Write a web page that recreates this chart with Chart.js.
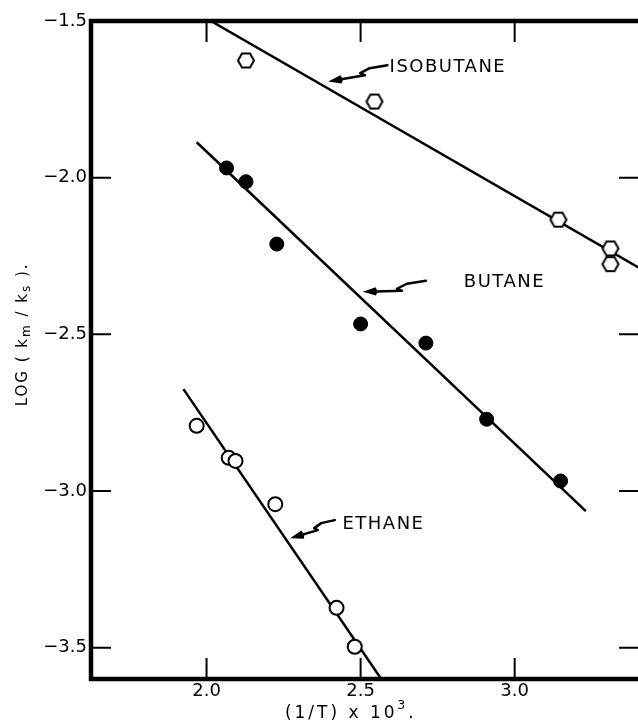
<!DOCTYPE html>
<html>
<head>
<meta charset="utf-8">
<script src="https://cdn.jsdelivr.net/npm/chart.js@4/dist/chart.umd.min.js"></script>
<style>
  html, body { margin: 0; padding: 0; background: #fff; overflow: hidden; }
  #wrap { position: relative; width: 650px; height: 725px; }
</style>
</head>
<body>
<div id="wrap"><canvas id="c" width="650" height="725"></canvas></div>
<script>
// Reciprocal temperature (1/T x 10^3) against log(km/ks) for each gas
const isobutaneX = [2.128, 2.545, 3.142, 3.311, 3.311];
const isobutaneY = [-1.626, -1.757, -2.134, -2.226, -2.276];
const butaneX = [2.065, 2.128, 2.228, 2.500, 2.712, 2.909, 3.149];
const butaneY = [-1.969, -2.013, -2.212, -2.467, -2.528, -2.771, -2.968];
const ethaneX = [1.968, 2.072, 2.094, 2.223, 2.422, 2.481];
const ethaneY = [-2.792, -2.894, -2.904, -3.042, -3.373, -3.497];

// Fitted straight lines, each given by its two end points
const isobutaneFitX = [2.014, 3.41];
const isobutaneFitY = [-1.5, -2.291];
const butaneFitX = [1.968, 3.231];
const butaneFitY = [-1.887, -3.064];
const ethaneFitX = [1.925, 2.567];
const ethaneFitY = [-2.675, -3.600];

// Axis ranges and tick values
const xRange = [1.625, 3.41];
const yRange = [-3.6, -1.5];
const xTicks = [2.0, 2.5, 3.0];
const yTicks = [-1.5, -2.0, -2.5, -3.0, -3.5];

// Curve names, where their text starts, and the squiggly arrows (tail, tip)
const curveNames = ['ISOBUTANE', 'BUTANE', 'ETHANE'];
const labelAt = [[2.594, -1.642], [2.835, -2.329], [2.441, -3.101]];
const arrowTail = [[2.587, -1.641], [2.712, -2.329], [2.416, -3.093]];
const arrowTip = [[2.395, -1.693], [2.507, -2.364], [2.271, -3.151]];

// Axis titles and where they are centred
const xTitleParts = ['(1/T) x 10', '3', '.'];
const xTitleCentre = 2.468;
const yTitleParts = ['LOG ( k', 'm', ' / k', 's', ' ).'];
const yTitleCentre = -2.5;

const FONT = '"DejaVu Sans", "Liberation Sans", sans-serif';
const toPts = (xs, ys) => xs.map((x, i) => ({ x, y: ys[i] }));

// Open hexagon marker, flat top and bottom
function hexagonMarker(r, lw) {
  const s = Math.ceil(2 * r + lw + 2);
  const cv = document.createElement('canvas');
  cv.width = s; cv.height = s;
  const g = cv.getContext('2d');
  g.beginPath();
  for (let k = 0; k < 6; k++) {
    const a = k * Math.PI / 3;
    const px = s / 2 + r * Math.cos(a), py = s / 2 + r * Math.sin(a);
    if (k) g.lineTo(px, py); else g.moveTo(px, py);
  }
  g.closePath();
  g.fillStyle = '#fff'; g.fill();
  g.lineWidth = lw; g.strokeStyle = '#000'; g.stroke();
  return cv;
}

function fitLine(xs, ys) {
  return {
    type: 'line', data: toPts(xs, ys), order: 2,
    borderColor: '#000', borderWidth: 2.5, pointRadius: 0,
    fill: false, tension: 0
  };
}

// Draws a lettered string piece by piece, with sub/superscripts
function drawPieces(ctx, pieces, x, baseY, align) {
  let total = 0;
  pieces.forEach(p => { ctx.font = p.font; ctx.letterSpacing = p.ls; total += ctx.measureText(p.text).width; });
  let cx = align === 'center' ? x - total / 2 : x;
  pieces.forEach(p => {
    ctx.font = p.font; ctx.letterSpacing = p.ls;
    ctx.fillText(p.text, cx, baseY + p.dy);
    cx += ctx.measureText(p.text).width;
  });
}

function drawArrow(ctx, T, P) {
  const dx = P.x - T.x;
  const pts = [
    T,
    { x: T.x + 0.30 * dx, y: T.y + 3 },
    { x: T.x + 0.46 * dx, y: T.y + 8 },
    { x: T.x + 0.38 * dx, y: T.y + 10 }
  ];
  const last = pts[pts.length - 1];
  const ang = Math.atan2(P.y - last.y, P.x - last.x);
  const len = 13, w = 4.2;
  const bx = P.x - len * Math.cos(ang), by = P.y - len * Math.sin(ang);
  ctx.lineWidth = 2.5;
  ctx.lineJoin = 'round';
  ctx.lineCap = 'round';
  ctx.beginPath();
  ctx.moveTo(pts[0].x, pts[0].y);
  for (let i = 1; i < pts.length; i++) ctx.lineTo(pts[i].x, pts[i].y);
  ctx.lineTo(bx, by);
  ctx.stroke();
  ctx.beginPath();
  ctx.moveTo(P.x, P.y);
  ctx.lineTo(bx - w * Math.sin(ang), by + w * Math.cos(ang));
  ctx.lineTo(bx + 2, by);
  ctx.lineTo(bx + w * Math.sin(ang), by - w * Math.cos(ang));
  ctx.closePath();
  ctx.fill();
}

const decorations = {
  id: 'decorations',
  afterDraw(chart) {
    const { ctx, chartArea: a, scales: { x, y } } = chart;
    ctx.save();
    ctx.strokeStyle = '#000';
    ctx.fillStyle = '#000';

    // frame
    ctx.lineWidth = 4.5;
    ctx.strokeRect(a.left, a.top, a.right - a.left, a.bottom - a.top);

    // inward tick marks on all four sides
    ctx.lineWidth = 2;
    ctx.beginPath();
    xTicks.forEach(v => {
      const px = x.getPixelForValue(v);
      ctx.moveTo(px, a.bottom); ctx.lineTo(px, a.bottom - 21);
      ctx.moveTo(px, a.top); ctx.lineTo(px, a.top + 21);
    });
    yTicks.forEach(v => {
      if (v >= yRange[1] || v <= yRange[0]) return;
      const py = y.getPixelForValue(v);
      ctx.moveTo(a.left, py); ctx.lineTo(a.left + 20, py);
      ctx.moveTo(a.right, py); ctx.lineTo(a.right - 22, py);
    });
    ctx.stroke();

    // curve names and arrows
    ctx.textAlign = 'left';
    ctx.textBaseline = 'alphabetic';
    curveNames.forEach((name, i) => {
      ctx.font = '18px ' + FONT;
      ctx.letterSpacing = '1.5px';
      ctx.fillText(name, x.getPixelForValue(labelAt[i][0]), y.getPixelForValue(labelAt[i][1]) + 6.5);
      ctx.letterSpacing = '0px';
      drawArrow(ctx,
        { x: x.getPixelForValue(arrowTail[i][0]), y: y.getPixelForValue(arrowTail[i][1]) },
        { x: x.getPixelForValue(arrowTip[i][0]), y: y.getPixelForValue(arrowTip[i][1]) });
    });

    // x axis title
    const big = '17px ' + FONT, small = '12px ' + FONT;
    drawPieces(ctx, [
      { text: xTitleParts[0], font: big, ls: '3px', dy: 0 },
      { text: xTitleParts[1], font: small, ls: '3px', dy: -9 },
      { text: xTitleParts[2], font: big, ls: '3px', dy: 0 }
    ], x.getPixelForValue(xTitleCentre), a.bottom + 39, 'center');

    // y axis title, reading upwards
    ctx.translate(21, y.getPixelForValue(yTitleCentre));
    ctx.rotate(-Math.PI / 2);
    const mid = '15px ' + FONT, sub = '12px ' + FONT;
    drawPieces(ctx, [
      { text: yTitleParts[0], font: mid, ls: '2px', dy: 0 },
      { text: yTitleParts[1], font: sub, ls: '2px', dy: 3 },
      { text: yTitleParts[2], font: mid, ls: '2px', dy: 0 },
      { text: yTitleParts[3], font: sub, ls: '2px', dy: 3 },
      { text: yTitleParts[4], font: mid, ls: '2px', dy: 0 }
    ], 0, 5.5, 'center');
    ctx.restore();
  }
};

new Chart(document.getElementById('c'), {
  type: 'scatter',
  data: {
    datasets: [
      {
        label: 'Isobutane', data: toPts(isobutaneX, isobutaneY), order: 1,
        pointStyle: hexagonMarker(8, 2), pointRadius: 8
      },
      {
        label: 'Butane', data: toPts(butaneX, butaneY), order: 1,
        pointStyle: 'circle', pointRadius: 7,
        backgroundColor: '#000', borderColor: '#000', borderWidth: 1
      },
      {
        label: 'Ethane', data: toPts(ethaneX, ethaneY), order: 1,
        pointStyle: 'circle', pointRadius: 7,
        backgroundColor: '#fff', borderColor: '#000', borderWidth: 2
      },
      fitLine(isobutaneFitX, isobutaneFitY),
      fitLine(butaneFitX, butaneFitY),
      fitLine(ethaneFitX, ethaneFitY)
    ]
  },
  options: {
    animation: false,
    responsive: false,
    devicePixelRatio: 1,
    layout: { padding: { top: 21, right: 5.6, bottom: 0, left: 0 } },
    plugins: { legend: { display: false }, tooltip: { enabled: false } },
    scales: {
      x: {
        type: 'linear', min: xRange[0], max: xRange[1],
        grid: { display: false, drawTicks: false },
        border: { display: false },
        afterFit(s) { s.height = 46; },
        afterBuildTicks(s) { s.ticks = xTicks.map(v => ({ value: v })); },
        ticks: {
          padding: 2, color: '#000', font: { family: FONT, size: 18 },
          maxRotation: 0, autoSkip: false,
          callback: v => v.toFixed(1)
        }
      },
      y: {
        type: 'linear', min: yRange[0], max: yRange[1],
        grid: { display: false, drawTicks: false },
        border: { display: false },
        afterFit(s) { s.width = 91; },
        afterBuildTicks(s) { s.ticks = yTicks.map(v => ({ value: v })); },
        ticks: {
          padding: 4, color: '#000', font: { family: FONT, size: 18 },
          autoSkip: false,
          callback: v => '\u2212' + Math.abs(v).toFixed(1)
        }
      }
    }
  },
  plugins: [decorations]
});
</script>
</body>
</html>
